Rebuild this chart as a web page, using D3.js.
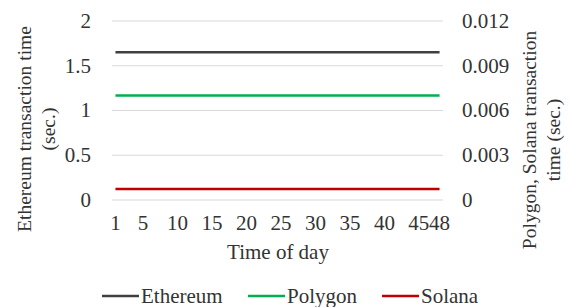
<!DOCTYPE html>
<html>
<head>
<meta charset="utf-8">
<script src="https://cdn.jsdelivr.net/npm/d3@7"></script>
<style>
  body { margin: 0; background: #fff; }
</style>
</head>
<body>
<svg id="chart" width="571" height="307"></svg>
<script>
// time of day (1..48 half-hour slots)
const times = [1,2,3,4,5,6,7,8,9,10,11,12,13,14,15,16,17,18,19,20,21,22,23,24,
               25,26,27,28,29,30,31,32,33,34,35,36,37,38,39,40,41,42,43,44,45,46,47,48];
const xTicks = [1, 5, 10, 15, 20, 25, 30, 35, 40, 45, 48];

// left axis (sec.)
const ethereum = [1.65,1.65,1.65,1.65,1.65,1.65,1.65,1.65,1.65,1.65,1.65,1.65,1.65,1.65,1.65,1.65,
                  1.65,1.65,1.65,1.65,1.65,1.65,1.65,1.65,1.65,1.65,1.65,1.65,1.65,1.65,1.65,1.65,
                  1.65,1.65,1.65,1.65,1.65,1.65,1.65,1.65,1.65,1.65,1.65,1.65,1.65,1.65,1.65,1.65];
// right axis (sec.)
const polygon = [0.007,0.007,0.007,0.007,0.007,0.007,0.007,0.007,0.007,0.007,0.007,0.007,
                 0.007,0.007,0.007,0.007,0.007,0.007,0.007,0.007,0.007,0.007,0.007,0.007,
                 0.007,0.007,0.007,0.007,0.007,0.007,0.007,0.007,0.007,0.007,0.007,0.007,
                 0.007,0.007,0.007,0.007,0.007,0.007,0.007,0.007,0.007,0.007,0.007,0.007];
const solana = [0.00074,0.00074,0.00074,0.00074,0.00074,0.00074,0.00074,0.00074,0.00074,0.00074,0.00074,0.00074,
                0.00074,0.00074,0.00074,0.00074,0.00074,0.00074,0.00074,0.00074,0.00074,0.00074,0.00074,0.00074,
                0.00074,0.00074,0.00074,0.00074,0.00074,0.00074,0.00074,0.00074,0.00074,0.00074,0.00074,0.00074,
                0.00074,0.00074,0.00074,0.00074,0.00074,0.00074,0.00074,0.00074,0.00074,0.00074,0.00074,0.00074];

const leftTicks = [0, 0.5, 1, 1.5, 2];
const rightTicks = [0, 0.003, 0.006, 0.009, 0.012];

const svg = d3.select("#chart");
const font = "Liberation Serif";
const fs = 21;      // horizontal text
const fsRot = 19.5; // rotated titles
const textColor = "#333";

const x = d3.scaleLinear().domain([0.5, 48.5]).range([112, 443]);
const yL = d3.scaleLinear().domain([0, 2]).range([200, 21]);
const yR = d3.scaleLinear().domain([0, 0.012]).range([200, 21]);

function addText(sel, size) {
  return sel.attr("font-family", font).attr("font-size", size).attr("fill", textColor);
}

// gridlines
svg.selectAll("line.grid")
  .data(leftTicks)
  .enter()
  .append("line")
  .attr("x1", x.range()[0])
  .attr("x2", x.range()[1])
  .attr("y1", d => yL(d))
  .attr("y2", d => yL(d))
  .attr("stroke", "#d9d9d9")
  .attr("stroke-width", 1);

// left ticks
addText(svg.selectAll("text.yl")
  .data(leftTicks)
  .enter()
  .append("text")
  .attr("x", 91)
  .attr("y", d => yL(d))
  .attr("dy", "0.33em")
  .attr("text-anchor", "end"), fs)
  .text(d => d);

// right ticks
addText(svg.selectAll("text.yr")
  .data(rightTicks)
  .enter()
  .append("text")
  .attr("x", 462)
  .attr("y", d => yR(d))
  .attr("dy", "0.33em"), fs)
  .text(d => d === 0 ? "0" : d3.format(".3f")(d));

// x ticks
addText(svg.selectAll("text.xt")
  .data(xTicks)
  .enter()
  .append("text")
  .attr("x", d => x(d))
  .attr("y", 223)
  .attr("dy", "0.33em")
  .attr("text-anchor", "middle"), fs)
  .text(d => d);

// axis titles
addText(svg.append("text")
  .attr("x", 278).attr("y", 252).attr("dy", "0.33em")
  .attr("text-anchor", "middle"), fs)
  .text("Time of day");

const leftTitle = addText(svg.append("text")
  .attr("transform", "translate(25,129) rotate(-90)")
  .attr("text-anchor", "middle"), fsRot);
leftTitle.append("tspan").attr("x", 0).attr("dy", "0.33em").text("Ethereum transaction time");
leftTitle.append("tspan").attr("x", 0).attr("dy", "1.2em").text("(sec.)");

const rightTitle = addText(svg.append("text")
  .attr("transform", "translate(530,140) rotate(-90)")
  .attr("text-anchor", "middle"), fsRot);
rightTitle.append("tspan").attr("x", 0).attr("dy", "0.33em").text("Polygon, Solana transaction");
rightTitle.append("tspan").attr("x", 0).attr("dy", "1.2em").text("time (sec.)");

// series
const series = [
  { name: "Ethereum", values: ethereum, y: yL, color: "#404040" },
  { name: "Polygon", values: polygon, y: yR, color: "#00b050" },
  { name: "Solana", values: solana, y: yR, color: "#c00000" }
];

series.forEach(s => {
  const line = d3.line()
    .x((d, i) => x(times[i]))
    .y(d => s.y(d));
  svg.append("path")
    .datum(s.values)
    .attr("fill", "none")
    .attr("stroke", s.color)
    .attr("stroke-width", 2.5)
    .attr("d", line);
});

// legend
const legendX = [102, 248, 382];
const leg = svg.selectAll("g.legend")
  .data(series)
  .enter()
  .append("g")
  .attr("transform", (d, i) => `translate(${legendX[i]},296)`);
leg.append("line")
  .attr("x1", 0).attr("x2", 37)
  .attr("stroke", d => d.color)
  .attr("stroke-width", 2.5);
addText(leg.append("text")
  .attr("x", 39)
  .attr("dy", "0.33em"), fs)
  .text(d => d.name);
</script>
</body>
</html>
